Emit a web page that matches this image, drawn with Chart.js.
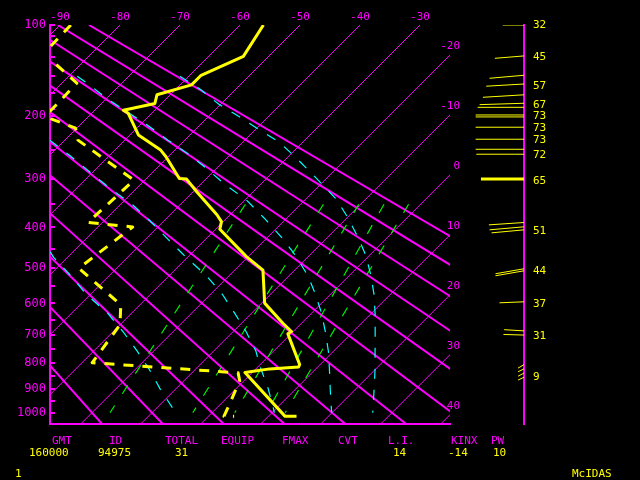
<!DOCTYPE html>
<html>
<head>
<meta charset="utf-8">
<script src="https://cdn.jsdelivr.net/npm/chart.js@4.4.1/dist/chart.umd.min.js"></script>
<style>
  html, body { margin: 0; padding: 0; background: #000; }
  #wrap { position: relative; width: 640px; height: 480px; overflow: hidden;
          font-family: 'DejaVu Sans Mono', monospace; font-size: 11px; }
  canvas { position: absolute; left: 0; top: 0; }
  .t { position: absolute; white-space: pre; line-height: 11px; }
  .m { color: #ff00ff; }
  .y { color: #ffff00; }
</style>
</head>
<body>
<div id="wrap">
  <canvas id="skewt" width="640" height="480"></canvas>
  <canvas id="winds" width="640" height="480"></canvas>

  <div class="t m" style="left:52px;top:435px">GMT</div>
  <div class="t m" style="left:109px;top:435px">ID</div>
  <div class="t m" style="left:165px;top:435px">TOTAL</div>
  <div class="t m" style="left:221px;top:435px">EQUIP</div>
  <div class="t m" style="left:282px;top:435px">FMAX</div>
  <div class="t m" style="left:338px;top:435px">CVT</div>
  <div class="t m" style="left:388px;top:435px">L.I.</div>
  <div class="t m" style="left:451px;top:435px">KINX</div>
  <div class="t m" style="left:491px;top:435px">PW</div>

  <div class="t y" style="left:29px;top:447px">160000</div>
  <div class="t y" style="left:98px;top:447px">94975</div>
  <div class="t y" style="left:175px;top:447px">31</div>
  <div class="t y" style="left:393px;top:447px">14</div>
  <div class="t y" style="left:448px;top:447px">-14</div>
  <div class="t y" style="left:493px;top:447px">10</div>

  <div class="t y" style="left:15px;top:468px">1</div>
  <div class="t y" style="left:572px;top:468px">McIDAS</div>
</div>

<script>
const MAGENTA = '#ff00ff';
const YELLOW = '#ffff00';
const CYAN = '#00ffff';
const GREEN = '#00ee00';
const FONT = "'DejaVu Sans Mono', monospace";

// pressure axis (hPa)
const pressureLabels = [100, 200, 300, 400, 500, 600, 700, 800, 900, 1000];
const pressureMinor = [110, 130, 150, 170, 190, 250, 350, 450, 550, 650, 750, 850, 950];

// temperature labels (deg C): along the top, and down the right edge
const topTempLabels = [-90, -80, -70, -60, -50, -40, -30];
const sideTempLabels = [-20, -10, 0, 10, 20, 30, 40];

// background lines
const isotherms = [-90, -80, -70, -60, -50, -40, -30, -20, -10, 0, 10, 20, 30, 40];
const dryAdiabats = [-20, -10, 0, 10, 20, 30, 40, 50, 60, 70, 80, 90]; // theta, deg C
const mixRatios = [1, 3, 5, 7, 9];                     // g/kg
const mixTop = [-29.2, -16.2, -10.3, -6.1, -2.0];     // deg C at 350 hPa
const mixBottom = [-17.0, -3.2, 3.8, 9.1, 12.2];      // deg C at 1000 hPa

// saturated adiabats
const moistPres = [
  [150, 165, 184, 201, 220, 239, 265, 300, 339, 379, 424, 468, 521, 572, 632, 690, 763, 825, 904, 1000],
  [150, 158, 177, 213, 235, 256, 282, 311, 341, 379, 424, 469, 521, 569, 629, 690, 760, 825, 904, 987, 1000],
  [235, 261, 289, 319, 350, 383, 430, 472, 521, 572, 629, 690, 756, 813, 900, 983, 1000],
  [458, 472, 521, 572, 629, 690, 756, 825, 902, 985, 1000]
];
const moistTemp = [
  [-61.5, -56, -50.3, -44.7, -39.1, -33.7, -28.2, -21.6, -15, -9.8, -4.8, -0.5, 3.7, 7.2, 10.7, 13.7, 17.2, 20, 23.2, 26.8],
  [-78.6, -75.8, -69.8, -58.6, -52.8, -47.4, -41.6, -35.9, -29.8, -23.8, -17.5, -12.1, -6.8, -2.8, 1.6, 5.4, 9.3, 12.4, 15.9, 19.4, 20],
  [-72.5, -66.3, -60.3, -54.3, -48.1, -42.7, -35.9, -30.2, -23.7, -18.1, -12.9, -7.8, -3, 0.3, 5.4, 9.6, 10.4],
  [-53.8, -52.3, -46.3, -40.8, -34.1, -28.3, -22.8, -17.6, -12.5, -7, -6.1]
];

// sounding 94975, 16 00Z
const tempPres = [100, 129, 149, 160, 172, 183, 192, 196, 227, 250, 262, 300, 301, 325, 372, 387, 404, 470, 505, 599, 662, 689, 697, 806, 815, 822, 836, 1016, 1016];
const tempVals = [-56.1, -54.2, -58.1, -58.1, -62.2, -61.1, -65.2, -63.9, -58.6, -52.5, -50.3, -44.5, -43.2, -39.4, -32.2, -30.3, -29.3, -20.3, -15.3, -9.5, -3.1, -0.3, -0.5, 6.6, 6.8, 2.3, -1.2, 12.8, 14.7];
const dewPres = [100, 120, 128, 136, 158, 163, 182, 197, 204, 217, 235, 303, 389, 399, 500, 604, 667, 799, 837, 868, 987, 1016, 1016];
const dewVals = [-88.2, -88.0, -87.7, -84.5, -77.5, -77.5, -77.3, -77.3, -75.7, -70.2, -67.8, -51.8, -52.4, -44.2, -46.3, -33.2, -30.0, -28.3, -2.3, -0.7, 2.0, 2.6, 4.3];

// winds: pressure at the staff, pressure at its tip, speed (kt)
const windPres = [100, 128.5, 149, 159, 172, 182.7, 188, 198.3, 201, 215.6, 233.6, 249.4, 257.5, 300.6, 389, 398.6, 405.5, 501.6, 507, 595, 687, 701, 806, 822, 838, 854];
const windTipPres = [100, 130.9, 152.4, 161.6, 175.1, 184.5, 188, 198.3, 201, 215.6, 233.6, 249.4, 257.5, 300.6, 394.2, 405.5, 412.4, 514.9, 520.4, 598, 683, 699, 819, 833, 850, 865];
const windSpd = [32, 44, 52, 57, 62, 67, 70, 73, 73, 73, 73, 73, 72, 65, 53, 52, 49, 43, 43, 37, 30, 31, 9, 9, 9, 9];
const windLabelPres = [100, 130, 161, 185, 200, 217, 235, 259, 304, 409, 507, 602, 704, 854];
const windLabels = ['32', '45', '57', '67', '73', '73', '73', '72', '65', '51', '44', '37', '31', '9'];
const MAX_WIND_LEVEL = 300.6;

// diagram geometry: y is p^kappa, isotherms skewed at 45 degrees
const KAPPA = 0.286;
const P_TOP = 100, P_BOTTOM = 1050;
const X_MIN = -91.67, X_MAX = -25;
const SKEW = 64.67;

const P = p => Math.pow(p, KAPPA);
const skewX = (p, t) => t - SKEW * (P(p) - P(100)) / (P(1000) - P(100));
const pt = (p, t) => ({ x: skewX(p, t), y: P(p) });

const line = (data, color, width, dash, order) => ({
    data,
    showLine: true,
    borderColor: color,
    borderWidth: width,
    borderDash: dash,
    borderJoinStyle: 'round',
    pointRadius: 0,
    clip: 0,
    order
});

const datasets = [];
datasets.push(line(tempPres.map((p, i) => pt(p, tempVals[i])), YELLOW, 3, [], 0));
datasets.push(line(dewPres.map((p, i) => pt(p, dewVals[i])), YELLOW, 3, [10, 9], 1));
moistPres.forEach((ps, k) => {
    datasets.push(line(ps.map((p, i) => pt(p, moistTemp[k][i])), CYAN, 1.2, [10, 11], 2));
});
mixRatios.forEach((w, i) => {
    datasets.push(line([pt(350, mixTop[i]), pt(1000, mixBottom[i])], GREEN, 1.2, [10, 14], 3));
});
dryAdiabats.forEach(th => {
    const pts = [P_TOP, P_BOTTOM].map(p => pt(p, (th + 273.15) * Math.pow(p / 1000, KAPPA) - 273.15));
    datasets.push(line(pts, MAGENTA, 2, [], 4));
});
isotherms.forEach(t => {
    datasets.push(line([pt(P_TOP, t), pt(P_BOTTOM, t)], MAGENTA, 1, [], 5));
});

// isotherm numbers where each line leaves the right edge
const sideLabels = {
    id: 'sideLabels',
    afterDraw(chart) {
        const { ctx, scales: { x, y } } = chart;
        ctx.save();
        ctx.fillStyle = MAGENTA;
        ctx.font = `11px ${FONT}`;
        ctx.textAlign = 'right';
        ctx.textBaseline = 'middle';
        sideTempLabels.forEach(t => {
            const pv = P(100) + (t - X_MAX) * (P(1000) - P(100)) / SKEW;
            ctx.fillText(String(t), x.right + 10, y.getPixelForValue(pv) - 9);
        });
        ctx.restore();
    }
};

const pressureTicks = [...pressureLabels, ...pressureMinor];

new Chart(document.getElementById('skewt'), {
    type: 'scatter',
    data: { datasets },
    options: {
        responsive: false,
        animation: false,
        devicePixelRatio: 1,
        layout: { padding: { right: 190 } },
        plugins: { legend: { display: false }, tooltip: { enabled: false } },
        scales: {
            x: {
                type: 'linear',
                position: 'top',
                min: X_MIN,
                max: X_MAX,
                afterFit: s => { s.height = 25; },
                afterBuildTicks: s => { s.ticks = topTempLabels.map(v => ({ value: v })); },
                grid: { display: false, drawTicks: false },
                border: { display: false },
                ticks: {
                    color: MAGENTA,
                    font: { family: FONT, size: 11 },
                    padding: 1,
                    maxRotation: 0,
                    autoSkip: false,
                    callback: v => String(v)
                }
            },
            xb: {
                type: 'linear',
                position: 'bottom',
                min: X_MIN,
                max: X_MAX,
                afterFit: s => { s.height = 56; },
                grid: { display: false, drawTicks: false },
                ticks: { display: false },
                border: { color: MAGENTA, width: 2 }
            },
            y: {
                type: 'linear',
                position: 'left',
                reverse: true,
                min: P(P_TOP),
                max: P(P_BOTTOM),
                afterFit: s => { s.width = 50; },
                afterBuildTicks: s => { s.ticks = pressureTicks.map(p => ({ value: P(p) })); },
                grid: { drawOnChartArea: false, drawTicks: true, tickLength: -5, color: MAGENTA, lineWidth: 2 },
                border: { color: MAGENTA, width: 2 },
                ticks: {
                    color: MAGENTA,
                    font: { family: FONT, size: 12 },
                    padding: 9,
                    autoSkip: false,
                    callback: (v, i) => i < pressureLabels.length ? String(pressureLabels[i]) : ''
                }
            }
        }
    },
    plugins: [sideLabels]
});

// wind column
const windSets = windPres.map((p, i) => ({
    data: [{ x: 0, y: P(p) }, { x: -windSpd[i], y: P(windTipPres[i]) }],
    showLine: true,
    borderColor: YELLOW,
    borderWidth: p === MAX_WIND_LEVEL ? 3 : 1,
    pointRadius: 0,
    clip: 0
}));

new Chart(document.getElementById('winds'), {
    type: 'scatter',
    data: { datasets: windSets },
    options: {
        responsive: false,
        animation: false,
        devicePixelRatio: 1,
        layout: { padding: { left: 471, top: 25, bottom: 56 } },
        plugins: { legend: { display: false }, tooltip: { enabled: false } },
        scales: {
            x: { type: 'linear', min: -80, max: 0, display: false },
            y: {
                type: 'linear',
                position: 'right',
                reverse: true,
                min: P(P_TOP),
                max: P(P_BOTTOM),
                afterFit: s => { s.width = 116; },
                afterBuildTicks: s => { s.ticks = windLabelPres.map(p => ({ value: P(p) })); },
                grid: { display: false, drawTicks: false },
                border: { color: MAGENTA, width: 2 },
                ticks: {
                    color: YELLOW,
                    font: { family: FONT, size: 11 },
                    padding: 9,
                    autoSkip: false,
                    callback: (v, i) => windLabels[i]
                }
            }
        }
    }
});
</script>
</body>
</html>
